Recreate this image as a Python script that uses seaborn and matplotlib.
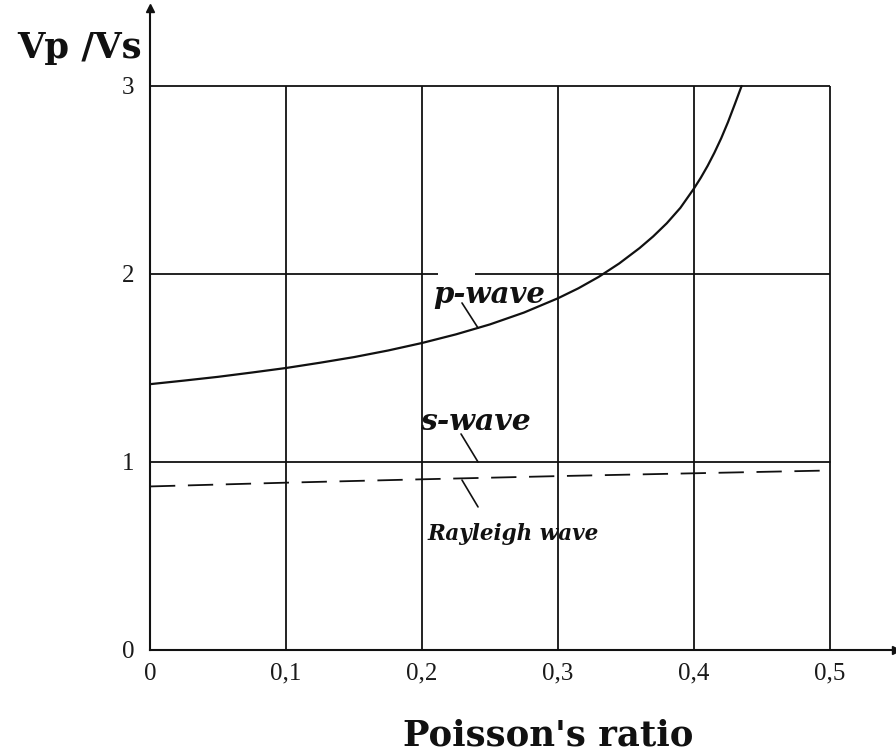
import matplotlib
matplotlib.use("Agg")
import matplotlib.pyplot as plt
import seaborn as sns
import pandas as pd

# ---- data ----
p_x = [0.0, 0.025, 0.05, 0.075, 0.1, 0.125, 0.15, 0.175, 0.2, 0.225, 0.25, 0.275, 0.3,
       0.315, 0.33, 0.345, 0.36, 0.37, 0.38, 0.39, 0.4, 0.405, 0.41, 0.415, 0.42, 0.425, 0.43, 0.435]
p_y = [1.414, 1.433, 1.453, 1.476, 1.5, 1.528, 1.558, 1.593, 1.633, 1.679, 1.732, 1.795, 1.871,
       1.924, 1.985, 2.056, 2.138, 2.200, 2.270, 2.352, 2.455, 2.512, 2.575, 2.645, 2.722, 2.808, 2.903, 3.0]
s_x = [0.0, 0.5]
s_y = [1.0, 1.0]
r_x = [0.0, 0.1, 0.2, 0.3, 0.4, 0.5]
r_y = [0.870, 0.890, 0.908, 0.925, 0.940, 0.955]
x_ticks = [0, 0.1, 0.2, 0.3, 0.4, 0.5]
x_tick_labels = ["0", "0,1", "0,2", "0,3", "0,4", "0,5"]
y_ticks = [0, 1, 2, 3]
y_tick_labels = ["0", "1", "2", "3"]

sns.set_theme(style="white")
plt.rcParams['font.family'] = ['Liberation Serif', 'DejaVu Serif']

fig = plt.figure(figsize=(8.96, 7.51), dpi=100)
ax = fig.add_axes([150/896, 1 - 650/751, (896-150)/896, (650-8)/751])
ax.set_xlim(0, 0.5 * (896-150)/680)
ax.set_ylim(0, (650-8)/188)

lc = "#111111"
# grid lines (only within the data box)
for xv in x_ticks[1:]:
    ax.vlines(xv, 0, 3, color=lc, lw=1.3, zorder=1)
ax.hlines(3, 0, 0.5, color=lc, lw=1.3, zorder=1)
ax.hlines(2, 0, 0.212, color=lc, lw=1.3, zorder=1)
ax.hlines(2, 0.239, 0.5, color=lc, lw=1.3, zorder=1)

df_p = pd.DataFrame({"x": p_x, "y": p_y})
df_s = pd.DataFrame({"x": s_x, "y": s_y})
df_r = pd.DataFrame({"x": r_x, "y": r_y})
sns.lineplot(data=df_p, x="x", y="y", ax=ax, color=lc, lw=1.6, sort=True)
sns.lineplot(data=df_s, x="x", y="y", ax=ax, color=lc, lw=1.3)
sns.lineplot(data=df_r, x="x", y="y", ax=ax, color=lc, lw=1.3, linestyle=(0, (14, 7)))

# axes styling
for sp in ["top", "right"]:
    ax.spines[sp].set_visible(False)
for sp in ["left", "bottom"]:
    ax.spines[sp].set_color(lc)
    ax.spines[sp].set_linewidth(1.5)
ax.plot(1, 0, ">", transform=ax.transAxes, color=lc, clip_on=False, ms=6)
ax.plot(0, 1, "^", transform=ax.transAxes, color=lc, clip_on=False, ms=6)

ax.set_xticks(x_ticks)
ax.set_xticklabels(x_tick_labels)
ax.set_yticks(y_ticks)
ax.set_yticklabels(y_tick_labels)
ax.tick_params(axis="both", length=0, labelsize=18, colors="#1a1a1a")
ax.tick_params(axis="x", pad=9)
ax.tick_params(axis="y", pad=11)
ax.set_xlabel("")
ax.set_ylabel("")

fig.text(17/896, 1 - 58/751, "Vp /Vs", fontsize=25.5, fontweight="bold", ha="left", va="baseline",
         color="#111111", family="DejaVu Serif")
fig.text(548/896, 1 - 745/751, "Poisson's ratio", fontsize=25.5, fontweight="bold", ha="center", va="baseline",
         color="#111111", family="DejaVu Serif")

# curve labels with leader lines
lab_kw = dict(fontweight="bold", style="italic", va="baseline", ha="left", color="#111111", family="DejaVu Serif")
ax.text(0.208, 1.846, "p-wave", fontsize=21, **lab_kw)
ax.text(0.1985, 1.17, "s-wave", fontsize=21.5, **lab_kw)
ax.text(0.204, 0.585, "Rayleigh wave", fontsize=15.5, **lab_kw)
for (x0, y0, x1, y1) in [(0.2294, 1.846, 0.2412, 1.713), (0.2287, 1.149, 0.2412, 1.0), (0.2294, 0.904, 0.2412, 0.761)]:
    ax.annotate("", xy=(x1, y1), xytext=(x0, y0), arrowprops=dict(arrowstyle="-", color=lc, lw=1.2, shrinkA=0, shrinkB=0))

fig.savefig("out.png", dpi=100, facecolor="white")
